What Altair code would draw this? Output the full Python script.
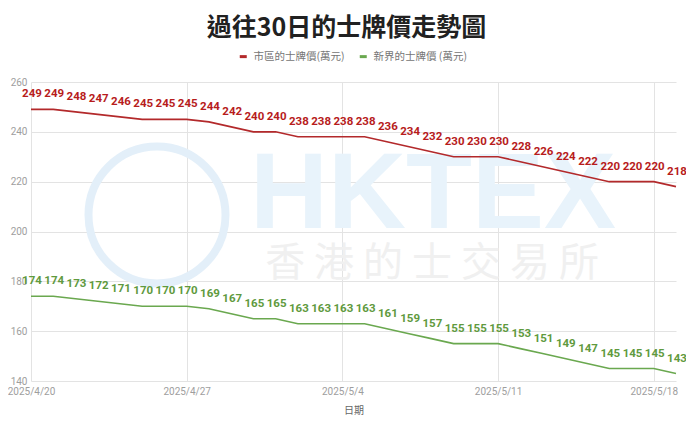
import altair as alt
import pandas as pd

dates = ["2025/4/20", "2025/4/21", "2025/4/22", "2025/4/23", "2025/4/24", "2025/4/25",
         "2025/4/26", "2025/4/27", "2025/4/28", "2025/4/29", "2025/4/30", "2025/5/1",
         "2025/5/2", "2025/5/3", "2025/5/4", "2025/5/5", "2025/5/6", "2025/5/7",
         "2025/5/8", "2025/5/9", "2025/5/10", "2025/5/11", "2025/5/12", "2025/5/13",
         "2025/5/14", "2025/5/15", "2025/5/16", "2025/5/17", "2025/5/18", "2025/5/19"]
urban = [249, 249, 248, 247, 246, 245, 245, 245, 244, 242, 240, 240, 238, 238, 238,
         238, 236, 234, 232, 230, 230, 230, 228, 226, 224, 222, 220, 220, 220, 218]
nt = [174, 174, 173, 172, 171, 170, 170, 170, 169, 167, 165, 165, 163, 163, 163,
      163, 161, 159, 157, 155, 155, 155, 153, 151, 149, 147, 145, 145, 145, 143]
series_names = ["市區的士牌價(萬元)", "新界的士牌價 (萬元)"]
line_colors = ["#b3292b", "#6aa84f"]
label_colors = ["#b71c1c", "#5f9a3e"]
tick_dates = ["2025/4/20", "2025/4/27", "2025/5/4", "2025/5/11", "2025/5/18"]

df = pd.concat([
    pd.DataFrame({"date": dates, "price": urban, "series": series_names[0]}),
    pd.DataFrame({"date": dates, "price": nt, "series": series_names[1]}),
])

x = alt.X("date:O", sort=dates, title="日期",
          scale=alt.Scale(type="point", padding=0, domain=dates),
          axis=alt.Axis(values=tick_dates, labelAngle=0, grid=True, ticks=False,
                        domain=False, labelColor="#9e9e9e", labelFontSize=10,
                        labelPadding=5, titleColor="#666666", titleFontSize=10,
                        titleFontWeight="normal", titlePadding=9,
                        gridColor="#e3e3e3", labelFont="Roboto", titleFont="Noto Sans CJK TC"))
y = alt.Y("price:Q", title=None,
          scale=alt.Scale(domain=[140, 260], nice=False, zero=False),
          axis=alt.Axis(values=[140, 160, 180, 200, 220, 240, 260], ticks=False,
                        domain=False, labelColor="#9e9e9e", labelFontSize=10,
                        labelPadding=4, gridColor="#e3e3e3", labelFont="Roboto"))

wm_circle = alt.Chart(pd.DataFrame({"k": [0]})).mark_point(
    shape="circle", filled=False, stroke="#e3eff9", strokeWidth=8, size=18769, opacity=1
).encode(x=alt.value(126), y=alt.value(133))

wm_text = alt.Chart(pd.DataFrame({"k": [0]})).mark_text(
    text="HKTEX", font="Liberation Sans", fontWeight="bold", fontSize=108,
    color="#e8f3fb", align="center", baseline="middle"
).encode(x=alt.value(402), y=alt.value(114))

wm_sub = alt.Chart(pd.DataFrame({"k": [0]})).mark_text(
    text="香 港 的 士 交 易 所", font="Noto Sans CJK TC", fontSize=40,
    color="#f0f0f0", align="center", baseline="middle"
).encode(x=alt.value(401), y=alt.value(182))

lines = alt.Chart(df).mark_line(strokeWidth=1.6).encode(
    x=x, y=y,
    color=alt.Color("series:N", scale=alt.Scale(domain=series_names, range=line_colors),
                    legend=alt.Legend(title=None, orient="none", direction="horizontal",
                                      legendX=207, legendY=-31, symbolType="stroke",
                                      symbolSize=49, symbolStrokeWidth=3,
                                      labelColor="#757575", labelFontSize=10.5,
                                      labelFont="Noto Sans CJK TC", labelOffset=5,
                                      columnPadding=8))
)

labels = alt.Chart(df).mark_text(
    font="Roboto", fontWeight="bold", fontSize=11.5, dy=-12, dx=1, baseline="alphabetic"
).encode(
    x=x, y=y, text="price:Q",
    color=alt.Color("series:N", scale=alt.Scale(domain=series_names, range=label_colors),
                    legend=None)
)

chart = alt.layer(wm_circle, wm_text, wm_sub, lines, labels).resolve_scale(
    color="independent"
).properties(
    width=645, height=299,
    autosize=alt.AutoSizeParams(type="none"),
    padding={"left": 23, "top": 74, "right": 10, "bottom": 35},
    title=alt.TitleParams("過往30日的士牌價走勢圖", font="Noto Sans CJK TC", fontSize=25,
                          fontWeight="bold", color="#212121", anchor="middle", offset=10, dx=-7),
    background="white",
).configure_view(stroke=None)

chart.save("out.html", embed_options={"renderer": "svg", "actions": False})
